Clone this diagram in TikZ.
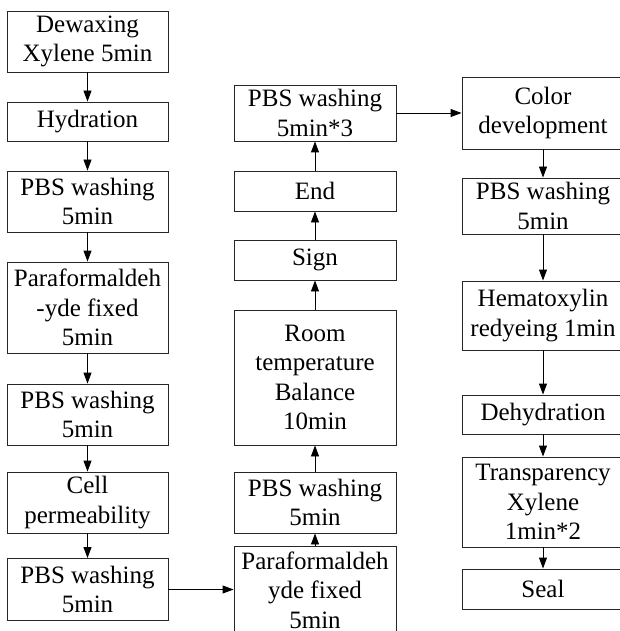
\documentclass[tikz,border=0pt]{standalone}
\usepackage{fontspec}
\setmainfont{Liberation Serif}
\usetikzlibrary{arrows.meta}
\begin{document}
\begin{tikzpicture}[x=1pt,y=-1pt,
  box/.style={draw=black!85, line width=0.9pt, inner sep=0pt, align=center,
    font=\fontsize{25}{29.5}\selectfont},
  arr/.style={-{Triangle[length=11pt,width=8pt]}, line width=0.9pt}]
\useasboundingbox (0,0) rectangle (620,631);
\clip (0,0) rectangle (620,631);
% column 1
\node[box, minimum width=161pt, minimum height=61pt] (a1) at (87.5,41.5) {Dewaxing\\Xylene 5min};
\node[box, minimum width=161pt, minimum height=39pt] (a2) at (87.5,121.5) {Hydration};
\node[box, minimum width=161pt, minimum height=61pt] (a3) at (87.5,201.5) {PBS washing\\5min};
\node[box, minimum width=161pt, minimum height=91pt] (a4) at (87.5,307.5) {Paraformaldeh\\-yde fixed\\5min};
\node[box, minimum width=161pt, minimum height=61pt] (a5) at (87.5,414.5) {PBS washing\\5min};
\node[box, minimum width=161pt, minimum height=61pt] (a6) at (87.5,502.5) {Cell\\permeability};
\node[box, minimum width=161pt, minimum height=62pt] (a7) at (87.5,589.5) {PBS washing\\5min};
% column 2
\node[box, minimum width=162pt, minimum height=56pt] (b1) at (315,113) {PBS washing\\5min*3};
\node[box, minimum width=162pt, minimum height=40pt] (b2) at (315,191) {End};
\node[box, minimum width=162pt, minimum height=40pt] (b3) at (315,260) {Sign};
\node[box, minimum width=162pt, minimum height=135pt] (b4) at (315,377.5) {Room\\temperature\\Balance\\10min};
\node[box, minimum width=162pt, minimum height=61pt] (b5) at (315,502.5) {PBS washing\\5min};
\node[box, minimum width=162pt, minimum height=88pt] (b6) at (315,590) {Paraformaldeh\\yde fixed\\5min};
% column 3
\node[box, minimum width=162pt, minimum height=72pt] (c1) at (543,113) {Color\\development};
\node[box, minimum width=162pt, minimum height=56pt] (c2) at (543,206) {PBS washing\\5min};
\node[box, minimum width=162pt, minimum height=69pt] (c3) at (543,315.5) {Hematoxylin\\redyeing 1min};
\node[box, minimum width=162pt, minimum height=39pt] (c4) at (543,414.5) {Dehydration};
\node[box, minimum width=162pt, minimum height=90pt] (c5) at (543,502) {Transparency\\Xylene\\1min*2};
\node[box, minimum width=162pt, minimum height=40pt] (c6) at (543,589) {Seal};
% arrows
\draw[arr] (a1) -- (a2);
\draw[arr] (a2) -- (a3);
\draw[arr] (a3) -- (a4);
\draw[arr] (a4) -- (a5);
\draw[arr] (a5) -- (a6);
\draw[arr] (a6) -- (a7);
\draw[arr] (a7.east) -- (a7.east -| b6.west);
\draw[arr] (b6) -- (b5);
\draw[arr] (b5) -- (b4);
\draw[arr] (b4) -- (b3);
\draw[arr] (b3) -- (b2);
\draw[arr] (b2) -- (b1);
\draw[arr] (b1.east) -- (b1.east -| c1.west);
\draw[arr] (c1) -- (c2);
\draw[arr] (c2) -- (c3);
\draw[arr] (c3) -- (c4);
\draw[arr] (c4) -- (c5);
\draw[arr] (c5) -- (c6);
\end{tikzpicture}
\end{document}
